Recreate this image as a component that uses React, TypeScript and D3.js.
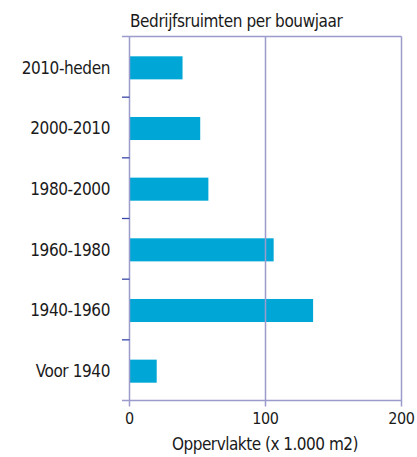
import React, { useEffect, useRef } from 'react';
import * as d3 from 'd3';

const categories = ['2010-heden', '2000-2010', '1980-2000', '1960-1980', '1940-1960', 'Voor 1940'];
const values = [39, 52, 58, 106, 135, 20];
const xTicks = [0, 100, 200];

const title = 'Bedrijfsruimten per bouwjaar';
const xTitle = 'Oppervlakte (x 1.000 m2)';

const FONT = "'Liberation Sans Narrow', 'DejaVu Sans Condensed', 'Roboto Condensed', sans-serif";

const App: React.FC = () => {
  const svgRef = useRef<SVGSVGElement>(null);

  useEffect(() => {
    if (!svgRef.current) return;
    const width = 417;
    const height = 457;
    const left = 129.5;
    const right = 401.5;
    const top = 36.5;
    const bottom = 400.5;

    const svg = d3.select(svgRef.current);
    svg.selectAll('*').remove();
    svg.attr('width', width).attr('height', height);

    const x = d3.scaleLinear().domain([0, 200]).range([left, right]);
    const y = d3.scaleBand<string>().domain(categories).range([top, bottom]).paddingInner(0.62).paddingOuter(0.31);

    const frameColor = '#9b9bcc';
    const tickColor = '#3a47a8';
    const textColor = '#1a1a1a';

    // bars
    svg.append('g')
      .selectAll('rect')
      .data(values)
      .enter()
      .append('rect')
      .attr('x', x(0))
      .attr('y', (_, i) => y(categories[i])! + 1)
      .attr('width', (d) => x(d) - x(0))
      .attr('height', y.bandwidth())
      .attr('fill', '#00a7d6');

    // frame + gridlines
    svg.append('line').attr('x1', 122).attr('x2', right).attr('y1', top).attr('y2', top)
      .attr('stroke', frameColor).attr('stroke-width', 1.5);
    svg.append('line').attr('x1', 122).attr('x2', right).attr('y1', bottom).attr('y2', bottom)
      .attr('stroke', frameColor).attr('stroke-width', 1.5);

    svg.append('g')
      .selectAll('line')
      .data(xTicks)
      .enter()
      .append('line')
      .attr('x1', (d) => x(d))
      .attr('x2', (d) => x(d))
      .attr('y1', top)
      .attr('y2', bottom + 6)
      .attr('stroke', frameColor)
      .attr('stroke-width', 1.5);

    // category boundary ticks
    const step = y.step();
    const bounds = d3.range(1, categories.length).map((i) => top + i * step);
    svg.append('g')
      .selectAll('line')
      .data(bounds)
      .enter()
      .append('line')
      .attr('x1', 122)
      .attr('x2', left)
      .attr('y1', (d) => d)
      .attr('y2', (d) => d)
      .attr('stroke', tickColor)
      .attr('stroke-width', 1.3);

    // category labels
    svg.append('g')
      .selectAll('text')
      .data(categories)
      .enter()
      .append('text')
      .attr('x', 110)
      .attr('y', (d) => y(d)! + y.bandwidth() / 2 + 1)
      .attr('dy', '0.35em')
      .attr('text-anchor', 'end')
      .attr('font-family', FONT)
      .attr('font-size', '17px')
      .attr('letter-spacing', '-0.4px')
      .attr('fill', textColor)
      .text((d) => d);

    // x tick labels
    svg.append('g')
      .selectAll('text')
      .data(xTicks)
      .enter()
      .append('text')
      .attr('x', (d) => x(d))
      .attr('y', 424)
      .attr('text-anchor', 'middle')
      .attr('font-family', FONT)
      .attr('font-size', '16px')
      .attr('letter-spacing', '-0.4px')
      .attr('fill', textColor)
      .text((d) => d);

    svg.append('text')
      .attr('x', 265)
      .attr('y', 450)
      .attr('text-anchor', 'middle')
      .attr('font-family', FONT)
      .attr('font-size', '17px')
      .attr('letter-spacing', '-0.5px')
      .attr('fill', textColor)
      .text(xTitle);

    svg.append('text')
      .attr('x', 130)
      .attr('y', 27)
      .attr('font-family', FONT)
      .attr('font-size', '17px')
      .attr('letter-spacing', '-0.4px')
      .attr('fill', textColor)
      .text(title);
  }, []);

  return <svg ref={svgRef} style={{ position: 'absolute', left: 0, top: 0, background: '#fff' }}></svg>;
};

export default App;
